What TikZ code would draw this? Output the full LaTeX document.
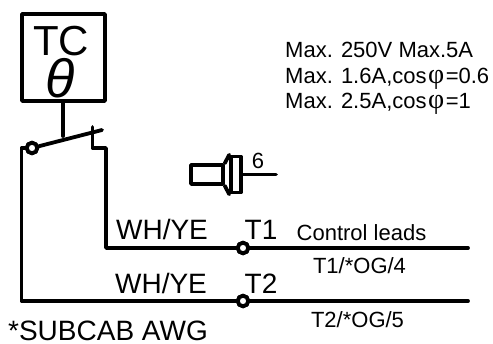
\documentclass[tikz,border=0pt]{standalone}
\usepackage{fontspec}
\setmainfont{Liberation Sans}
\newfontfamily\phifont{Liberation Serif}
\newcommand{\cosphi}{cos\kern1.5pt{\phifont\fontsize{28}{28}\selectfont φ}\kern1.5pt}
\tikzset{
	wire/.style={line width=3.8pt,line join=round,line cap=round},
	term/.style={circle,draw,line width=3.8pt,fill=white,minimum size=10.5pt,inner sep=0pt},
	lbl/.style={inner sep=0pt,anchor=base,font=\fontsize{#1}{#1}\selectfont},
	lbl/.default=28
}
\begin{document}
\begin{tikzpicture}[x=1pt,y=-1pt]
	\useasboundingbox (0,0) rectangle (493,343);
	% thermostat box
	\node[draw,line width=3.8pt,line join=round,minimum width=83pt,minimum height=87pt,inner sep=0pt] (tc) at (63.5,57.5) {};
	\node[lbl=42] (tclabel) at (61,55) {TC};
	\node[lbl=54] (theta) at (60,97) {\itshape θ};
	% switch
	\coordinate (stem) at (63,136);
	\draw[wire] (tc.south-|stem) -- (stem);
	\node[term] (pivot) at (32,148) {};
	\coordinate (armend) at (102,130);
	\draw[wire] (pivot) -- (armend);
	\coordinate (ctop) at (92.5,127);
	\coordinate (cbot) at (92.5,148);
	\coordinate (c1) at (106,148);
	\coordinate (c2) at (106,248);
	\coordinate (p1) at (21.5,148);
	\coordinate (p2) at (21.5,301);
	\coordinate (end1) at (468,248);
	\coordinate (end2) at (468,301);
	\node[term] (t1) at (243,248) {};
	\node[term] (t2) at (243,301) {};
	\draw[wire] (ctop) -- (cbot) -- (c1) -- (c2) -- (t1) -- (end1);
	\draw[wire] (pivot) -- (p1) -- (p2) -- (t2) -- (end2);
	\node[term] at (t1) {};
	\node[term] at (t2) {};
	\node[term] at (pivot) {};
	% ferrule
	\node[draw,line width=3.5pt,line join=round,minimum width=32pt,minimum height=19pt,inner sep=0pt] (sleeve) at (207,174.5) {};
	\node[draw,line width=3.5pt,line join=round,minimum width=10pt,minimum height=36pt,inner sep=0pt] (collar) at (236,174.5) {};
	\draw[wire] (sleeve.north east) -- (collar.north west);
	\draw[wire] (sleeve.south east) -- (collar.south west);
	\coordinate (tail) at (276,174.5);
	\draw[wire] (collar.east|-tail) -- (tail);
	\node[lbl=22] (six) at (258,168) {6};
	% labels
	\foreach \n/\t/\x/\y in {wa/WH\slash YE/162/239.5,wb/WH\slash YE/161/293,la/T1/261/239.5,lb/T2/261/293}
	\node[lbl] (\n) at (\x,\y) {\t};
	\node[lbl] (subcab) at (108,340.5) {*SUBCAB AWG};
	\foreach \n/\t/\y in {ra/{Max. 250V Max.5A}/57.5,rb/{Max. 1.6A,\cosphi=0.6}/83,rc/{Max. 2.5A,\cosphi=1}/108.5}
	\node[lbl=22,anchor=base west] (\n) at (285,\y) {\t};
	\node[lbl=22] (leads) at (361.5,240) {Control leads};
	\node[lbl=22] (oga) at (359.5,273) {T1/*OG/4};
	\node[lbl=22] (ogb) at (357.5,327) {T2/*OG/5};
\end{tikzpicture}
\end{document}
